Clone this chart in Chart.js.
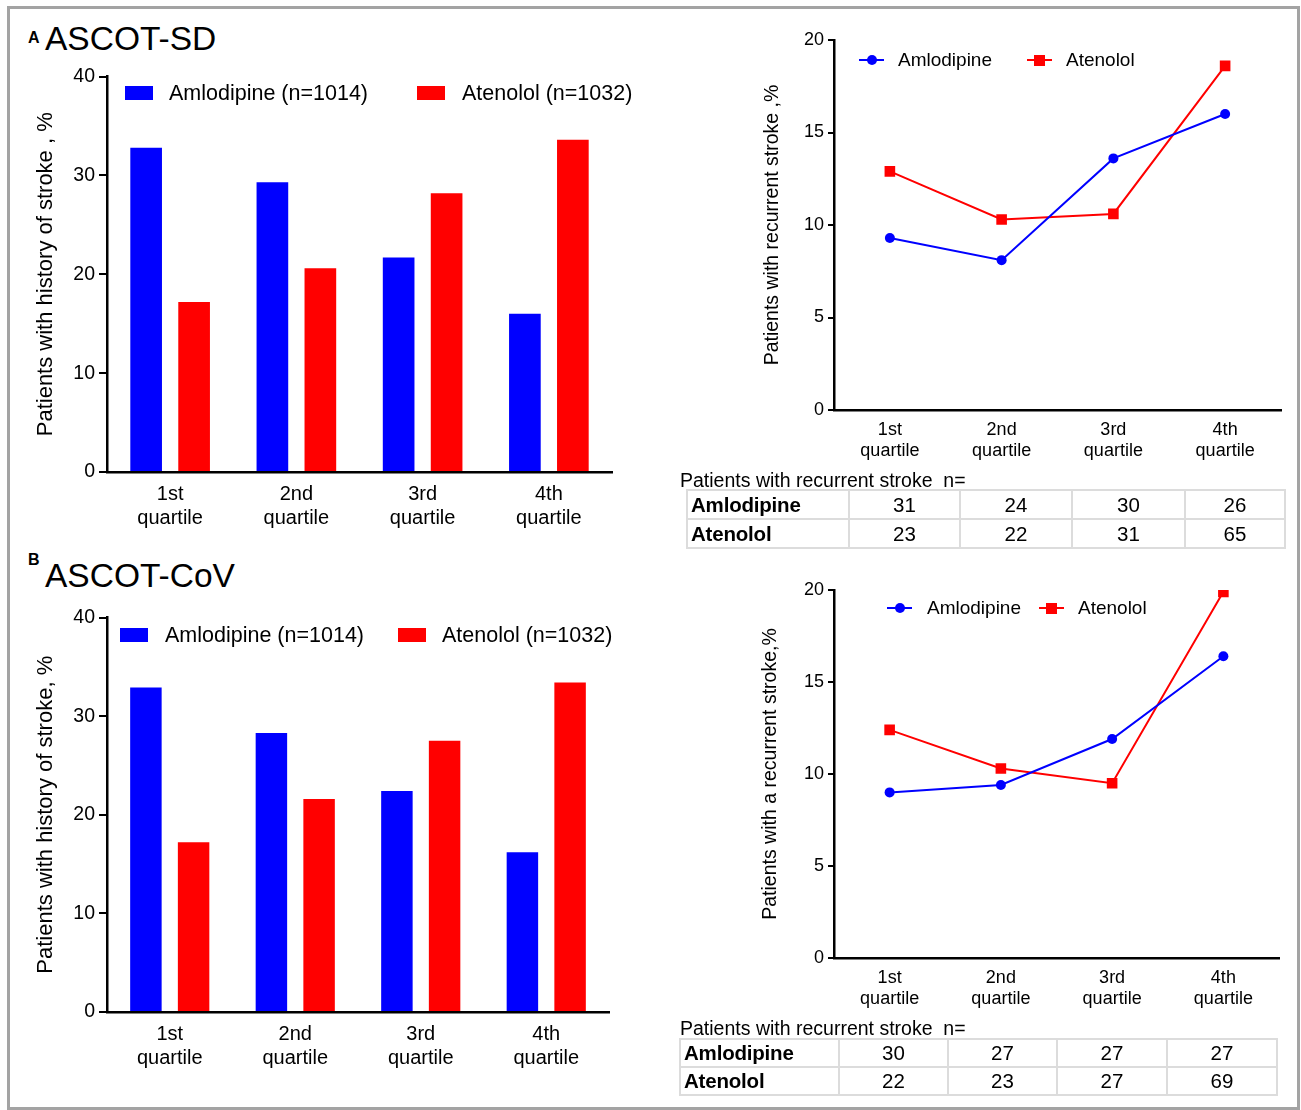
<!DOCTYPE html>
<html>
<head>
<meta charset="utf-8">
<script src="https://cdn.jsdelivr.net/npm/chart.js@4.4.0/dist/chart.umd.min.js"></script>
<style>
  body { margin: 0; width: 1301px; height: 1110px; background: #fff; position: relative; overflow: hidden;
         font-family: "Liberation Sans", Arial, sans-serif; color: #000; }
  .frame { position: absolute; left: 7px; top: 6px; width: 1293px; height: 1104px; box-sizing: border-box; border: 3px solid #a3a3a3; }
  .abs { position: absolute; white-space: pre; }
  canvas { position: absolute; }
  table.counts { position: absolute; border-collapse: collapse; font-size: 20.5px; }
  table.counts td { border: 2px solid #dcdcdc; padding: 0; text-align: center; }
  table.counts td.name { text-align: left; font-weight: bold; font-size: 20.5px; padding-left: 3px; letter-spacing: -0.2px; }
</style>
</head>
<body>
<div class="frame"></div>

<div class="abs" style="left:28px;top:29px;font-size:16px;font-weight:bold;">A</div>
<div class="abs" style="left:45px;top:20px;font-size:33.5px;">ASCOT-SD</div>
<div class="abs" style="left:28px;top:551px;font-size:16px;font-weight:bold;">B</div>
<div class="abs" style="left:45px;top:557px;font-size:33.5px;">ASCOT-CoV</div>

<canvas id="sdBar" width="606" height="480" style="left:14px;top:60px"></canvas>
<canvas id="sdLine" width="545" height="450" style="left:745px;top:20px"></canvas>
<canvas id="covBar" width="606" height="480" style="left:14px;top:600px"></canvas>
<canvas id="covLine" width="545" height="448" style="left:745px;top:570px"></canvas>

<div class="abs" style="left:680px;top:469px;font-size:19.5px;">Patients with recurrent stroke  n=</div>
<div class="abs" style="left:680px;top:1017px;font-size:19.5px;">Patients with recurrent stroke  n=</div>

<script>
// valores
const quartiles = [['1st', 'quartile'], ['2nd', 'quartile'], ['3rd', 'quartile'], ['4th', 'quartile']];
const seriesNames = ['Amlodipine', 'Atenolol'];
const groupSizes = ['(n=1014)', '(n=1032)'];

const sdHistoryAmlo = [32.8, 29.3, 21.7, 16.0];
const sdHistoryAten = [17.2, 20.6, 28.2, 33.6];
const sdRecurAmlo = [9.3, 8.1, 13.6, 16.0];
const sdRecurAten = [12.9, 10.3, 10.6, 18.6];

const covHistoryAmlo = [32.9, 28.3, 22.4, 16.2];
const covHistoryAten = [17.2, 21.6, 27.5, 33.4];
const covRecurAmlo = [9.0, 9.4, 11.9, 16.4];
const covRecurAten = [12.4, 10.3, 9.5, 19.9];

const sdCountsAmlo = [31, 24, 30, 26];
const sdCountsAten = [23, 22, 31, 65];
const covCountsAmlo = [30, 27, 27, 27];
const covCountsAten = [22, 23, 27, 69];

const barTicks = [0, 10, 20, 30, 40];
const lineTicks = [0, 5, 10, 15, 20];

const BLUE = '#0000ff';
const RED = '#ff0000';

Chart.defaults.font.family = '"Liberation Sans", Arial, sans-serif';
Chart.defaults.color = '#000';

// eixo y com largura fixa para posicionar a area do grafico
function yAxis(ticks, title, width, fontSize, titleSize, tickLen) {
  return {
    min: ticks[0],
    max: ticks[ticks.length - 1],
    afterBuildTicks: s => { s.ticks = ticks.map(v => ({ value: v })); },
    afterFit: s => { s.width = width; },
    grid: { display: true, drawOnChartArea: false, drawTicks: true, tickLength: tickLen, color: '#000', lineWidth: 2 },
    border: { display: true, color: '#000', width: 2.5 },
    ticks: { font: { size: fontSize }, padding: 4, color: '#000' },
    title: { display: true, text: title, font: { size: titleSize }, padding: { top: 0, bottom: 0 }, color: '#000' }
  };
}

function xAxis(height, fontSize, pad) {
  return {
    offset: true,
    afterFit: s => { s.height = height; },
    grid: { display: false, drawTicks: false },
    border: { display: true, color: '#000', width: 2.5 },
    ticks: { font: { size: fontSize, lineHeight: 1.2 }, padding: pad, color: '#000', maxRotation: 0, autoSkip: false }
  };
}

function makeBar(id, amlo, aten, title, pad, yWidth) {
  new Chart(document.getElementById(id), {
    type: 'bar',
    data: {
      labels: quartiles,
      datasets: [
        { label: seriesNames[0], data: amlo, backgroundColor: BLUE, borderWidth: 0 },
        { label: seriesNames[1], data: aten, backgroundColor: RED, borderWidth: 0 }
      ]
    },
    options: {
      responsive: false,
      animation: false,
      categoryPercentage: 0.76,
      barPercentage: 0.66,
      layout: { padding: pad },
      plugins: { legend: { display: false }, tooltip: { enabled: false } },
      scales: {
        x: xAxis(68, 20, 10),
        y: yAxis(barTicks, title, yWidth, 19.5, 22, 8)
      }
    }
  });
}

function makeLine(id, amlo, aten, title, pad, yWidth, xHeight) {
  new Chart(document.getElementById(id), {
    type: 'line',
    data: {
      labels: quartiles,
      datasets: [
        { label: seriesNames[0], data: amlo, borderColor: BLUE, backgroundColor: BLUE, borderWidth: 2,
          pointStyle: 'circle', pointRadius: 5, pointBorderWidth: 0, tension: 0 },
        { label: seriesNames[1], data: aten, borderColor: RED, backgroundColor: RED, borderWidth: 2,
          pointStyle: 'rect', pointRadius: 7.5, pointBorderWidth: 0, tension: 0 }
      ]
    },
    options: {
      responsive: false,
      animation: false,
      layout: { padding: pad },
      plugins: { legend: { display: false }, tooltip: { enabled: false } },
      scales: {
        x: xAxis(xHeight, 18, 9),
        y: yAxis(lineTicks, title, yWidth, 18, 19.5, 6)
      }
    }
  });
}

makeBar('sdBar', sdHistoryAmlo, sdHistoryAten, 'Patients with history of stroke , %',
  { left: 19, top: 16.5, right: 8, bottom: 0 }, 74);
makeBar('covBar', covHistoryAmlo, covHistoryAten, 'Patients with history of stroke, %',
  { left: 19, top: 17.5, right: 11, bottom: 0 }, 74);
makeLine('sdLine', sdRecurAmlo, sdRecurAten, 'Patients with recurrent stroke ,%',
  { left: 16, top: 20, right: 9, bottom: 0 }, 73, 60);
makeLine('covLine', covRecurAmlo, covRecurAten, 'Patients with a recurrent stroke,%',
  { left: 14, top: 20, right: 11, bottom: 0 }, 75, 60);

// legendas em HTML dentro da area do grafico
function addDiv(style, text) {
  const d = document.createElement('div');
  d.className = 'abs';
  d.style.cssText = style;
  if (text) d.textContent = text;
  document.body.appendChild(d);
  return d;
}

function barLegend(y, items) {
  items.forEach(it => {
    addDiv(`left:${it.box}px;top:${y - 7}px;width:28px;height:14px;background:${it.color}`);
    addDiv(`left:${it.text}px;top:${y - 12}px;font-size:21.5px;line-height:24px`, it.label);
  });
}

function lineLegend(y, items) {
  items.forEach(it => {
    addDiv(`left:${it.line}px;top:${y - 1}px;width:25px;height:2px;background:${it.color}`);
    if (it.round) {
      addDiv(`left:${it.line + 7.5}px;top:${y - 5}px;width:10px;height:10px;border-radius:50%;background:${it.color}`);
    } else {
      addDiv(`left:${it.line + 7}px;top:${y - 5.5}px;width:11px;height:11px;background:${it.color}`);
    }
    addDiv(`left:${it.text}px;top:${y - 11}px;font-size:19px;line-height:22px`, it.label);
  });
}

barLegend(93, [
  { box: 125, text: 169, color: BLUE, label: seriesNames[0] + ' ' + groupSizes[0] },
  { box: 417, text: 462, color: RED, label: seriesNames[1] + ' ' + groupSizes[1] }
]);
barLegend(635, [
  { box: 120, text: 165, color: BLUE, label: seriesNames[0] + ' ' + groupSizes[0] },
  { box: 398, text: 442, color: RED, label: seriesNames[1] + ' ' + groupSizes[1] }
]);
lineLegend(60, [
  { line: 859, text: 898, color: BLUE, round: true, label: seriesNames[0] },
  { line: 1027, text: 1066, color: RED, round: false, label: seriesNames[1] }
]);
lineLegend(608, [
  { line: 887, text: 927, color: BLUE, round: true, label: seriesNames[0] },
  { line: 1039, text: 1078, color: RED, round: false, label: seriesNames[1] }
]);

// tabelas com o numero de pacientes
function countsTable(left, top, widths, rowH, rows) {
  const t = document.createElement('table');
  t.className = 'counts';
  t.style.left = left + 'px';
  t.style.top = top + 'px';
  rows.forEach(r => {
    const tr = document.createElement('tr');
    const name = document.createElement('td');
    name.className = 'name';
    name.textContent = r.name;
    name.style.width = widths[0] + 'px';
    name.style.height = rowH + 'px';
    tr.appendChild(name);
    r.values.forEach((v, i) => {
      const td = document.createElement('td');
      td.textContent = v;
      td.style.width = widths[i + 1] + 'px';
      tr.appendChild(td);
    });
    t.appendChild(tr);
  });
  document.body.appendChild(t);
}

countsTable(686, 489, [157, 109, 110, 111, 98], 27, [
  { name: seriesNames[0], values: sdCountsAmlo },
  { name: seriesNames[1], values: sdCountsAten }
]);
countsTable(679, 1038, [154, 107, 107, 108, 108], 26, [
  { name: seriesNames[0], values: covCountsAmlo },
  { name: seriesNames[1], values: covCountsAten }
]);
</script>
</body>
</html>
